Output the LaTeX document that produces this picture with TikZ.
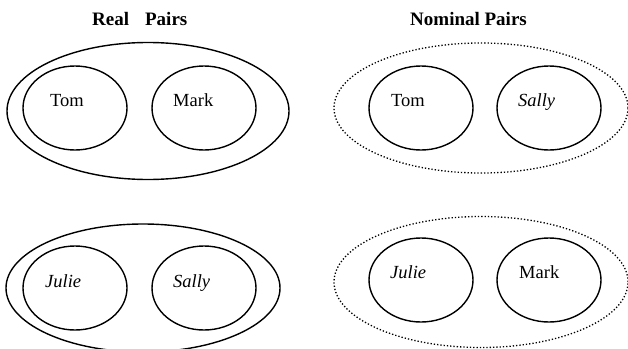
\documentclass[tikz,border=0pt]{standalone}
\usepackage{fontspec}
\setmainfont{Liberation Serif}
\usetikzlibrary{shapes.geometric}
\begin{document}
\begin{tikzpicture}[x=1pt,y=-1pt,
  inner/.style={draw,ellipse,line width=1.4pt,inner sep=0pt,minimum width=104pt,minimum height=84pt},
  outerreal/.style={draw,ellipse,line width=1.4pt,inner sep=0pt},
  outernom/.style={draw,ellipse,dotted,line width=1.3pt,inner sep=0pt},
  lbl/.style={anchor=base west,inner sep=0pt,font=\fontsize{18.5}{20}\selectfont},
  ttl/.style={anchor=base west,inner sep=0pt,font=\fontsize{19}{21}\selectfont\bfseries}]
\useasboundingbox (0,0) rectangle (628,348);
% titles
\node[ttl] (t1) at (92,25) {Real\hspace{16pt}Pairs};
\node[ttl] (t2) at (410,25) {Nominal Pairs};
% top left
\node[outerreal,minimum width=282pt,minimum height=137pt] (o1) at (148,111) {};
\node[inner] (c1) at (75,108) {};
\node[inner] (c2) at (204,108) {};
\node[lbl] (l1) at (50,106) {Tom};
\node[lbl] (l2) at (173,106) {Mark};
% top right
\node[outernom,minimum width=294pt,minimum height=130pt] (o2) at (481,108) {};
\node[inner] (c3) at (421,108) {};
\node[inner] (c4) at (549,108) {};
\node[lbl] (l3) at (391,106) {Tom};
\node[lbl] (l4) at (518,106) {\itshape Sally};
% bottom left
\node[outerreal,minimum width=274pt,minimum height=128pt] (o3) at (143,288) {};
\node[inner] (c5) at (75,288) {};
\node[inner] (c6) at (204,288) {};
\node[lbl] (l5) at (45,287) {\itshape Julie};
\node[lbl] (l6) at (173,287) {\itshape Sally};
% bottom right
\node[outernom,minimum width=294pt,minimum height=131pt] (o4) at (481,282) {};
\node[inner] (c7) at (421,280) {};
\node[inner] (c8) at (549,280) {};
\node[lbl] (l7) at (390,278) {\itshape Julie};
\node[lbl] (l8) at (519,278) {Mark};
\end{tikzpicture}
\end{document}
